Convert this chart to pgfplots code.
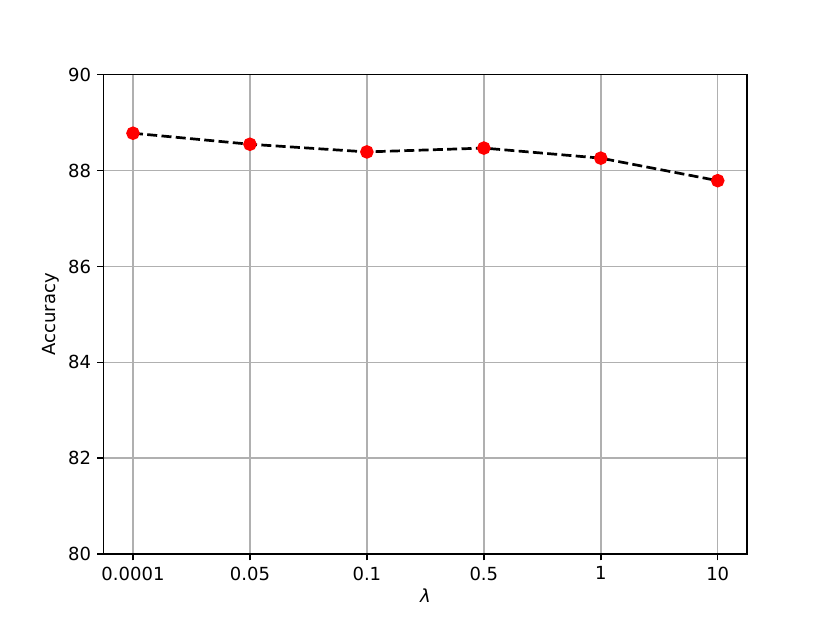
\documentclass[border=0pt]{standalone}
\usepackage{fontspec}
\setmainfont{DejaVu Sans}
\usepackage{pgfplots}
\pgfplotsset{compat=1.18}
\definecolor{gridgray}{HTML}{B0B0B0}
\begin{document}
\begin{tikzpicture}
\begin{axis}[
  scale only axis,
  width=357.1bp, height=266.1bp,
  xmin=-0.25, xmax=5.25,
  ymin=80, ymax=90,
  xtick={0,1,2,3,4,5},
  xticklabels={0.0001,0.05,0.1,0.5,1,10},
  ytick={80,82,84,86,88,90},
  grid=major,
  major grid style={gridgray, line width=0.8bp},
  axis line style={line width=0.8bp},
  tick style={black, line width=0.8bp},
  tick align=outside,
  major tick length=3.5bp,
  xtick pos=bottom, ytick pos=left,
  /pgf/number format/assume math mode=true,
  tick label style={font=\fontsize{10bp}{12bp}\selectfont},
  label style={font=\fontsize{10bp}{12bp}\selectfont},
  xlabel={\textit{λ}},
  ylabel={Accuracy},
  xlabel style={yshift=2bp},
  ylabel style={yshift=-2bp},
]
\addplot[black, line width=1.5bp, dash pattern=on 5.55bp off 2.4bp,
  mark=*, mark size=3bp, mark options={solid, fill=red, draw=red}]
  coordinates {(0,88.78) (1,88.55) (2,88.39) (3,88.47) (4,88.26) (5,87.79)};
\end{axis}
\path[use as bounding box] (current axis.south west) ++(-57.6bp,-38.0bp) rectangle ++(460.8bp,345.6bp);
\end{tikzpicture}
\end{document}
